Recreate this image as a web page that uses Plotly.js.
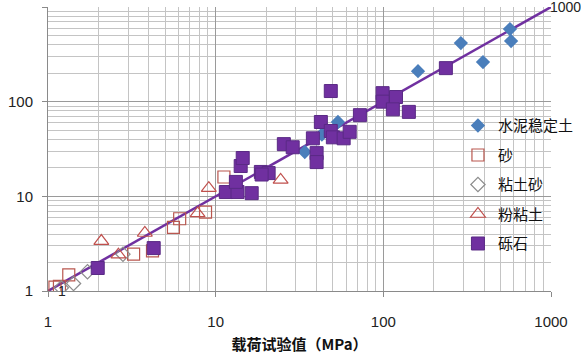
<!DOCTYPE html>
<html><head><meta charset="utf-8">
<script src="https://cdn.plot.ly/plotly-3.0.1.min.js"></script>
<style>html,body{margin:0;padding:0;background:#fff}#c{width:581px;height:354px}</style>
</head><body><div id="c"></div>
<script>
// Series names
const seriesNames = ['水泥稳定土', '砂', '粘土砂', '粉粘土', '砾石'];
// 水泥稳定土 (cement-stabilized soil)
const cementX = [34, 43, 53.6, 161, 290, 393, 569, 578];
const cementY = [29.4, 45, 61, 210, 416, 262, 585, 437];
// 砂 (sand)
const sandX = [1.1, 1.17, 1.33, 3.24, 4.2, 5.6, 6.1, 8.7, 11.2];
const sandY = [1.1, 1.12, 1.48, 2.45, 2.65, 4.7, 5.8, 6.8, 16];
// 粘土砂 (clayey sand)
const claySandX = [1.2, 1.42, 1.72, 2.8];
const claySandY = [1.08, 1.2, 1.6, 2.45];
// 粉粘土 (silty clay)
const siltClayX = [2.08, 2.63, 3.78, 7.8, 9.1, 24.4];
const siltClayY = [3.37, 2.42, 4.1, 6.6, 12.2, 14.9];
// 砾石 (gravel)
const gravelX = [1.98, 4.27, 11.5, 13.5, 16.4, 13.2, 14.1, 14.5, 18.6, 20.7, 18.8, 25.5, 28.8, 38, 40, 40, 42.4, 48.6, 50, 58, 63, 48.6, 72.5, 99, 99, 119, 114, 142, 236];
const gravelY = [1.75, 2.84, 11.1, 11.1, 10.8, 14.2, 20.9, 25.4, 18.1, 17.6, 17.0, 35.6, 33, 41, 28.6, 23, 61, 49, 42, 41, 48, 129.5, 72, 123, 100, 112, 83, 78, 226];
// reference line y = x
const lineX = [1, 1000];
const lineY = [1, 1000];
const lineLabels = ['1', '1000'];
// axis ticks
const tickVals = [1, 10, 100, 1000];
const tickText = ['1', '10', '100', '1000'];

const purple = '#7030A0';
const traces = [
  {x: lineX, y: lineY, mode: 'lines',
   line: {color: purple, width: 2.5}, showlegend: false, hoverinfo: 'skip'},
  {x: cementX, y: cementY, name: seriesNames[0], legendgroup: 'g0', mode: 'markers', type: 'scatter',
   marker: {symbol: 'diamond', size: 11, color: '#4A7EBB', line: {width: 0}}},
  {x: sandX, y: sandY, name: seriesNames[1], legendgroup: 'g1', mode: 'markers',
   marker: {symbol: 'square-open', size: 12, color: '#B9574F', line: {width: 1.2}}},
  {x: claySandX, y: claySandY, name: seriesNames[2], legendgroup: 'g2', mode: 'markers',
   marker: {symbol: 'diamond-open', size: 11, color: '#8C8C8C', line: {width: 1.2}}},
  {x: siltClayX, y: siltClayY, name: seriesNames[3], legendgroup: 'g3', mode: 'markers',
   marker: {symbol: 'triangle-up-open', size: 13, color: '#C0504D', line: {width: 1.2}}},
  {x: gravelX, y: gravelY, name: seriesNames[4], legendgroup: 'g4', mode: 'markers',
   marker: {symbol: 'square', size: 13, color: purple, line: {width: 1, color: '#5A2A85'}}}
];

const annotations = lineX.map((xv, i) => ({
  x: Math.log10(xv), y: Math.log10(lineY[i]), xref: 'x', yref: 'y',
  text: lineLabels[i], showarrow: false, xanchor: 'center', yanchor: 'middle',
  xshift: 14, yshift: 0,
  font: {family: 'Liberation Sans, Arial, sans-serif', size: 14, color: '#222'}
}));

const axisCommon = {
  type: 'log', tickvals: tickVals, ticktext: tickText,
  showgrid: true, gridcolor: '#9A9A9A', gridwidth: 1,
  minor: {dtick: 'D1', showgrid: true, gridcolor: '#C4C4C4', gridwidth: 1, ticks: ''},
  showline: true, linecolor: '#8A8A8A', linewidth: 1,
  ticks: 'outside', ticklen: 5, tickcolor: '#8A8A8A',
  tickfont: {family: 'Liberation Sans, Arial, sans-serif', size: 15, color: '#222'},
  zeroline: false, automargin: false
};

const layout = {
  width: 581, height: 354,
  margin: {l: 48, r: 30, t: 7, b: 63, autoexpand: false},
  paper_bgcolor: '#fff', plot_bgcolor: '#fff',
  xaxis: Object.assign({}, axisCommon, {range: [0, 3], ticklabelstandoff: 12,
    title: {text: '载荷试验值（MPa）', standoff: 20,
      font: {family: 'Noto Sans CJK SC, sans-serif', size: 15, color: '#111', weight: 'bold'}}}),
  yaxis: Object.assign({}, axisCommon, {range: [0, 3], ticklabelstandoff: 6}),
  annotations: annotations,
  legend: {x: 0.815, y: 0.64, xanchor: 'left', yanchor: 'top', bgcolor: 'rgba(0,0,0,0)',
    font: {family: 'Noto Sans CJK SC, sans-serif', size: 15, color: '#111'},
    tracegroupgap: 7, itemwidth: 30},
  showlegend: true
};

Plotly.newPlot('c', traces, layout, {displayModeBar: false, staticPlot: true});
</script>
</body></html>
